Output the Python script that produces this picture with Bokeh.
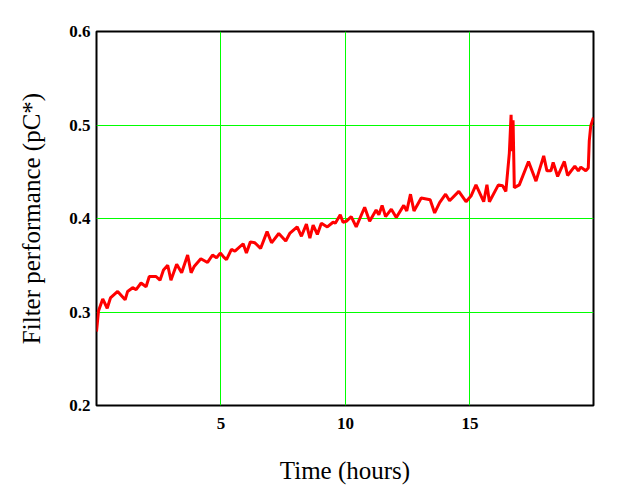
from bokeh.plotting import figure
from bokeh.models import Range1d, FixedTicker
from bokeh.embed import file_html
from bokeh.resources import INLINE

# Time (hours) and filter performance values
hours = [0.0, 0.08, 0.25, 0.43, 0.56, 0.85, 1.15, 1.25, 1.45, 1.59, 1.79, 1.99,
         2.12, 2.39, 2.55, 2.69, 2.86, 2.99, 3.22, 3.42, 3.66, 3.80, 3.93, 4.19,
         4.46, 4.66, 4.82, 4.97, 5.10, 5.22, 5.42, 5.56, 5.89, 6.02, 6.18, 6.36,
         6.59, 6.85, 7.03, 7.32, 7.60, 7.76, 8.06, 8.23, 8.43, 8.57, 8.70, 8.87,
         9.03, 9.27, 9.50, 9.59, 9.79, 9.90, 10.03, 10.23, 10.43, 10.77, 10.97,
         11.23, 11.34, 11.47, 11.61, 11.84, 12.04, 12.34, 12.46, 12.61, 12.75,
         13.04, 13.40, 13.58, 13.78, 14.02, 14.18, 14.55, 14.84, 15.04, 15.24,
         15.55, 15.68, 15.78, 16.14, 16.31, 16.44, 16.58, 16.65, 16.69, 16.73,
         16.78, 16.98, 17.35, 17.65, 17.96, 18.09, 18.25, 18.34, 18.52, 18.79,
         18.92, 19.21, 19.35, 19.45, 19.65, 19.75, 19.79, 19.85, 19.96]
performance = [0.279, 0.301, 0.314, 0.304, 0.315, 0.322, 0.313, 0.322, 0.326,
               0.324, 0.331, 0.327, 0.338, 0.338, 0.334, 0.345, 0.350, 0.334,
               0.351, 0.342, 0.361, 0.342, 0.349, 0.357, 0.353, 0.361, 0.358,
               0.363, 0.359, 0.356, 0.367, 0.365, 0.373, 0.363, 0.375, 0.374,
               0.368, 0.386, 0.374, 0.384, 0.376, 0.384, 0.391, 0.381, 0.394,
               0.379, 0.393, 0.383, 0.395, 0.391, 0.396, 0.395, 0.404, 0.396,
               0.397, 0.402, 0.391, 0.412, 0.397, 0.409, 0.404, 0.414, 0.402,
               0.410, 0.401, 0.414, 0.408, 0.426, 0.408, 0.422, 0.420, 0.406,
               0.417, 0.426, 0.419, 0.429, 0.418, 0.424, 0.436, 0.418, 0.436,
               0.418, 0.436, 0.435, 0.429, 0.470, 0.511, 0.472, 0.505, 0.433,
               0.436, 0.461, 0.440, 0.467, 0.451, 0.451, 0.460, 0.445, 0.461,
               0.446, 0.456, 0.451, 0.455, 0.451, 0.454, 0.483, 0.499, 0.508]

x_ticks = [5, 10, 15]
y_ticks = [0.2, 0.3, 0.4, 0.5, 0.6]

SERIF = "Liberation Serif"

p = figure(frame_width=497, frame_height=374, output_backend="svg",
           toolbar_location=None,
           x_range=Range1d(0, 19.96), y_range=Range1d(0.2, 0.6),
           min_border_left=96, min_border_top=31, min_border_right=28,
           min_border_bottom=84)
p.background_fill_color = "white"
p.border_fill_color = "white"
p.outline_line_color = "black"
p.outline_line_width = 2

p.line(hours, performance, line_color="#ff0000", line_width=3)

p.xaxis.ticker = FixedTicker(ticks=x_ticks)
p.yaxis.ticker = FixedTicker(ticks=y_ticks)
p.xgrid.ticker = FixedTicker(ticks=x_ticks)
p.ygrid.ticker = FixedTicker(ticks=y_ticks)
for g in (p.xgrid, p.ygrid):
    g.grid_line_color = "#00ff00"
    g.grid_line_width = 1
    g.grid_line_alpha = 1.0

for ax in (p.xaxis, p.yaxis):
    ax.axis_line_color = None
    ax.major_tick_line_color = None
    ax.minor_tick_line_color = None
    ax.major_label_text_font = SERIF
    ax.major_label_text_font_style = "bold"
    ax.major_label_text_font_size = "17px"
    ax.major_label_text_color = "black"
    ax.axis_label_text_font = SERIF
    ax.axis_label_text_font_style = "normal"
    ax.axis_label_text_font_size = "25px"
    ax.axis_label_text_color = "black"

p.xaxis.axis_label = "Time (hours)"
p.yaxis.axis_label = "Filter performance (pC*)"
p.xaxis.major_label_standoff = 6
p.xaxis.axis_label_standoff = 25
p.yaxis.major_label_standoff = 0
p.yaxis.axis_label_standoff = 21

open("out.html", "w").write(file_html(p, INLINE))
